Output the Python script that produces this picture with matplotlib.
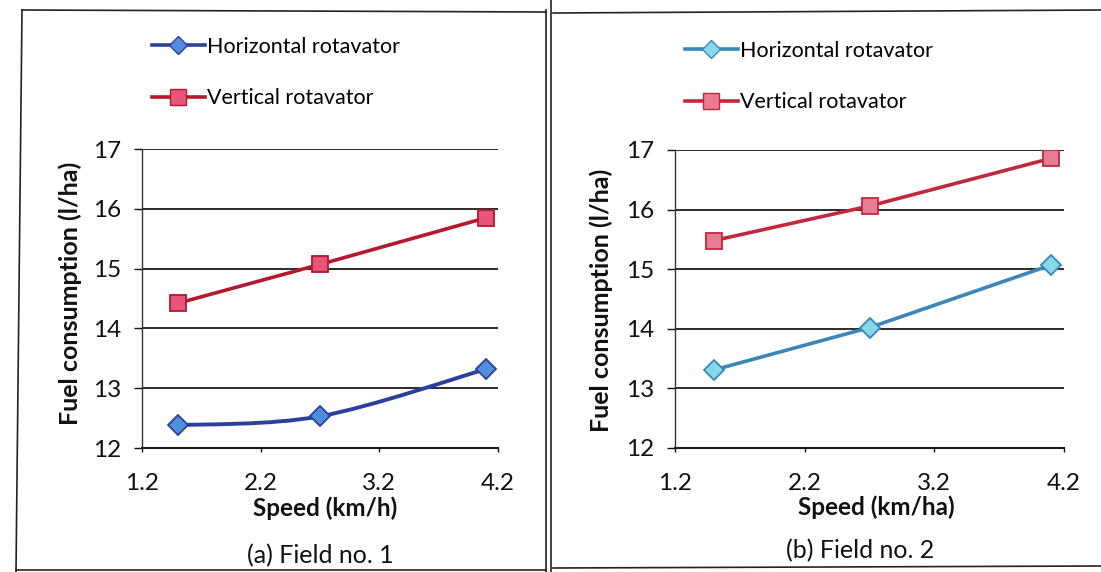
import matplotlib
matplotlib.use("Agg")
import matplotlib.pyplot as plt
from matplotlib.path import Path
from matplotlib.patches import PathPatch
from matplotlib.lines import Line2D
import numpy as np

# ---------------- data ----------------
speed = [1.5, 2.7, 4.1]
field1_horizontal = [12.38, 12.53, 13.32]
field1_vertical = [14.42, 15.07, 15.85]
field2_horizontal = [13.31, 14.02, 15.07]
field2_vertical = [15.48, 16.06, 16.86]
x_ticks = [1.2, 2.2, 3.2, 4.2]
y_ticks = [12, 13, 14, 15, 16, 17]
series_names = ["Horizontal rotavator", "Vertical rotavator"]
xlabels = ["Speed (km/h)", "Speed (km/ha)"]
ylabel = "Fuel consumption (l/ha)"
captions = ["(a) Field no. 1", "(b) Field no. 2"]

W, H = 1101, 572
fig = plt.figure(figsize=(W / 100, H / 100), dpi=100)
plt.rcParams['font.family'] = ['Lato', 'DejaVu Sans']

def fx(px):
    return px / W

def fy(py):
    return 1 - py / H

def smooth_path(xs, ys):
    pts = np.column_stack([xs, ys]).astype(float)
    n = len(pts)
    ext = np.vstack([pts[0], pts, pts[-1]])
    verts = [pts[0]]
    codes = [Path.MOVETO]
    for i in range(n - 1):
        p0, p1, p2, p3 = ext[i], ext[i + 1], ext[i + 2], ext[i + 3]
        c1 = p1 + (p2 - p0) / 6.0
        c2 = p2 - (p3 - p1) / 6.0
        verts += [c1, c2, p2]
        codes += [Path.CURVE4] * 3
    return Path(verts, codes)

panels = [
    dict(rect=(142, 149, 498, 448), h=field1_horizontal, v=field1_vertical,
         hcol="#2b3f9c", hfill="#4f8fdc", vcol="#b3182f", vfill="#e8557a",
         smooth=True, leg=(152, 37), ylab=(70, 293), xlab=(325, 508), cap=(320, 556)),
    dict(rect=(675, 150, 1064, 448), h=field2_horizontal, v=field2_vertical,
         hcol="#3b86b8", hfill="#86d8ea", vcol="#c1283d", vfill="#e77c93",
         smooth=False, leg=(685, 41), ylab=(601, 300), xlab=(876, 507), cap=(860, 551)),
]

for k, p in enumerate(panels):
    l, t, r, b = p["rect"]
    ax = fig.add_axes([fx(l), fy(b), fx(r) - fx(l), fy(t) - fy(b)])
    ax.set_xlim(1.2, 4.2)
    ax.set_ylim(12, 17)
    ax.set_xticks(x_ticks)
    ax.set_yticks(y_ticks)
    ax.set_xticklabels([f"{v:.1f}" for v in x_ticks])
    ax.grid(axis='y', color="#1a1a1a", linewidth=1.3)
    ax.set_axisbelow(True)
    for s in ["top", "right"]:
        ax.spines[s].set_visible(False)
    ax.spines["left"].set_color("#333333")
    ax.spines["left"].set_linewidth(1.0)
    ax.spines["bottom"].set_color("#1a1a1a")
    ax.spines["bottom"].set_linewidth(1.5)
    ax.tick_params(axis='y', length=6, width=1.0, pad=9, labelsize=17.5, colors="#111111")
    ax.tick_params(axis='x', length=3, width=1.0, pad=15, labelsize=17.5, colors="#111111")

    # vertical rotavator
    ax.plot(speed, p["v"], color=p["vcol"], linewidth=2.6, marker='s', markersize=12,
            markerfacecolor=p["vfill"], markeredgecolor=p["vcol"], markeredgewidth=1.3,
            zorder=3)
    # horizontal rotavator
    if p["smooth"]:
        patch = PathPatch(smooth_path(speed, p["h"]), facecolor='none',
                          edgecolor=p["hcol"], linewidth=2.8, transform=ax.transData,
                          zorder=3)
        ax.add_patch(patch)
        ax.plot(speed, p["h"], linestyle='none', marker='D', markersize=10,
                markerfacecolor=p["hfill"], markeredgecolor=p["hcol"],
                markeredgewidth=1.3, zorder=4)
    else:
        ax.plot(speed, p["h"], color=p["hcol"], linewidth=2.6, marker='D', markersize=10,
                markerfacecolor=p["hfill"], markeredgecolor=p["hcol"],
                markeredgewidth=1.3, zorder=3)
    ax.patch.set_alpha(0)

    handles = [
        Line2D([], [], color=p["hcol"], linewidth=2.6, marker='D', markersize=9,
               markerfacecolor=p["hfill"], markeredgecolor=p["hcol"]),
        Line2D([], [], color=p["vcol"], linewidth=2.6, marker='s', markersize=11,
               markerfacecolor=p["vfill"], markeredgecolor=p["vcol"]),
    ]
    fig.legend(handles, series_names, loc='upper left',
               bbox_to_anchor=(fx(p["leg"][0]), fy(p["leg"][1])),
               frameon=False, fontsize=15.5, handlelength=2.45, handletextpad=0.1,
               labelspacing=1.45, borderpad=0, borderaxespad=0)

    fig.text(fx(p["ylab"][0]), fy(p["ylab"][1]), ylabel, rotation=90,
             ha='center', va='center', fontsize=18, fontweight='bold', color="#111111")
    fig.text(fx(p["xlab"][0]), fy(p["xlab"][1]), xlabels[k],
             ha='center', va='center', fontsize=17.5, fontweight='bold', color="#111111")
    fig.text(fx(p["cap"][0]), fy(p["cap"][1]), captions[k],
             ha='center', va='center', fontsize=18, color="#111111")

# frame lines of the scanned figure
frame = dict(color="#222222", linewidth=1.2, transform=fig.transFigure)
fig.add_artist(Line2D([fx(22), fx(546)], [fy(10), fy(12)], **frame))
fig.add_artist(Line2D([fx(22), fx(16)], [fy(10), fy(572)], **frame))
fig.add_artist(Line2D([fx(546), fx(546)], [fy(10), fy(572)], **frame))
fig.add_artist(Line2D([fx(551), fx(551)], [fy(0), fy(572)], **frame))
fig.add_artist(Line2D([fx(553), fx(1101)], [fy(13), fy(10)], **frame))
fig.add_artist(Line2D([fx(553), fx(1101)], [fy(568), fy(566)], **frame))
fig.add_artist(Line2D([fx(16), fx(546)], [fy(570), fy(570)], **frame))

fig.savefig("out.png", dpi=100)
